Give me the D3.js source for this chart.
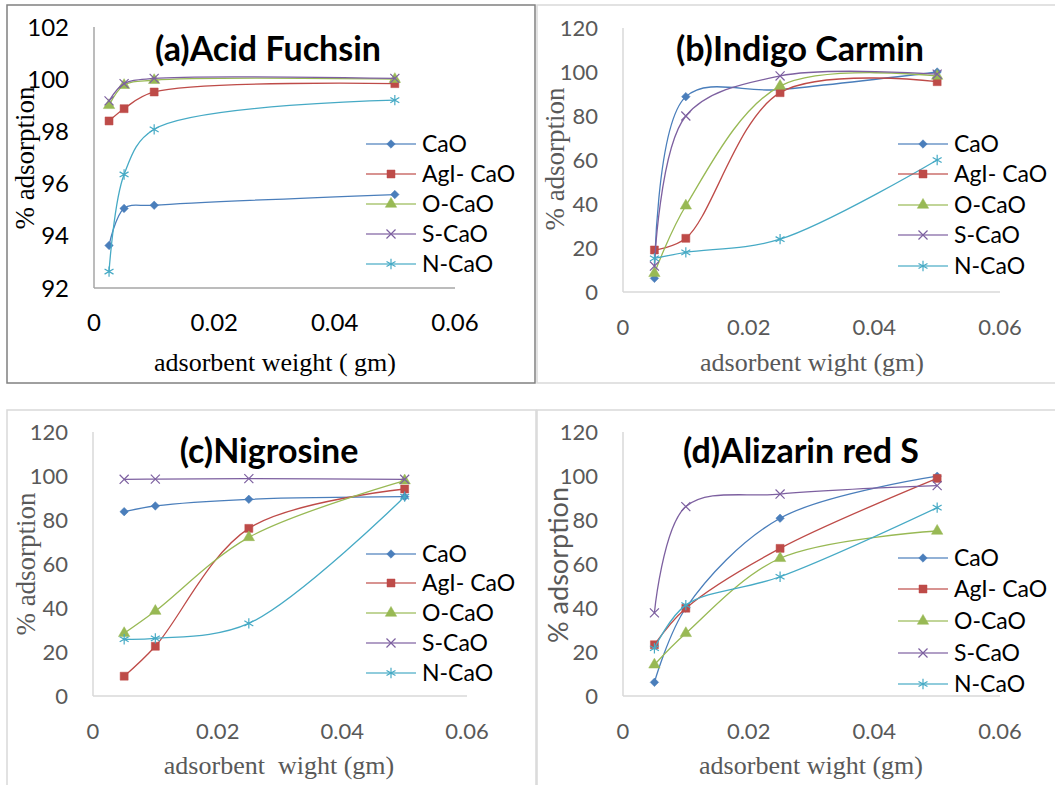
<!DOCTYPE html>
<html>
<head>
<meta charset="utf-8">
<script src="https://cdn.jsdelivr.net/npm/d3@7"></script>
<style>
  body { margin: 0; background: #fff; }
  svg { display: block; }
  text { white-space: pre; }
</style>
</head>
<body>
<svg id="chart" width="1055" height="785"></svg>
<script>
// series names + colours (excel 2007 palette)
var seriesNames = ["CaO", "AgI- CaO", "O-CaO", "S-CaO", "N-CaO"];
var seriesColors = ["#4a7ebb", "#be4b48", "#98b954", "#7d60a0", "#46aac5"];

// (a) Acid Fuchsin
var xA = [0.0025, 0.005, 0.01, 0.05];
var aCaO = [93.63, 95.05, 95.17, 95.58];
var aAgI = [98.4, 98.87, 99.51, 99.83];
var aO   = [99.0, 99.77, 99.96, 100.0];
var aS   = [99.17, 99.83, 100.03, 100.03];
var aN   = [92.63, 96.35, 98.08, 99.2];

// (b) Indigo Carmin
var xB = [0.005, 0.01, 0.025, 0.05];
var bCaO = [6.2, 88.8, 92, 100];
var bAgI = [19.1, 24.4, 90.6, 95.6];
var bO   = [8.5, 39.2, 93.6, 98.2];
var bS   = [11.8, 80, 98.2, 99];
var bN   = [15.3, 18, 24, 60];

// (c) Nigrosine
var xC = [0.005, 0.01, 0.025, 0.05];
var cCaO = [83.8, 86.4, 89.4, 90.6];
var cAgI = [9.0, 22.6, 76.2, 94.1];
var cO   = [28.5, 38.6, 72.1, 97.9];
var cS   = [98.5, 98.6, 98.8, 98.5];
var cN   = [25.8, 26.2, 33, 90.6];

// (d) Alizarin red S
var xD = [0.005, 0.01, 0.025, 0.05];
var dCaO = [6.2, 40, 80.8, 99.9];
var dAgI = [23.3, 39.9, 67.1, 98.9];
var dO   = [14.2, 28.5, 62.6, 75.0];
var dS   = [37.8, 86.1, 91.8, 95.6];
var dN   = [21.7, 41.3, 54.2, 85.6];

var xTicks = [0, 0.02, 0.04, 0.06];
var yTicksA = [92, 94, 96, 98, 100, 102];
var yTicks120 = [0, 20, 40, 60, 80, 100, 120];

var panels = [
  {title: "(a)Acid Fuchsin", xs: xA, ys: [aCaO, aAgI, aO, aS, aN], yDom: [92, 102], yTicks: yTicksA,
   xLabel: "adsorbent weight ( gm)", box: [7, 5, 535, 383], boxColor: "#808080",
   px: [94, 455], py: [288, 27], tickColor: "#000", labColor: "#000", axisColor: "#a6a6a6",
   tickSize: 24, titleX: 268, titleY: 61, xlabX: 275, xlabY: 371, ylabX: 34, ylabY: 158,
   ylabSans: false, legX: 366, legY: [144, 174, 204, 234, 264]},
  {title: "(b)Indigo Carmin", xs: xB, ys: [bCaO, bAgI, bO, bS, bN], yDom: [0, 120], yTicks: yTicks120,
   xLabel: "adsorbent wight (gm)", box: [537, 5, 1070, 383], boxColor: "#d9d9d9",
   px: [623, 1000], py: [292, 28], tickColor: "#595959", labColor: "#595959", axisColor: "#d9d9d9",
   tickSize: 22, titleX: 800, titleY: 61, xlabX: 812, xlabY: 371, ylabX: 564, ylabY: 159,
   ylabSans: false, legX: 898, legY: [144, 174, 205, 235, 266]},
  {title: "(c)Nigrosine", xs: xC, ys: [cCaO, cAgI, cO, cS, cN], yDom: [0, 120], yTicks: yTicks120,
   xLabel: "adsorbent  wight (gm)", box: [7, 410, 536, 800], boxColor: "#d9d9d9",
   px: [93, 467], py: [696, 432], tickColor: "#595959", labColor: "#595959", axisColor: "#d9d9d9",
   tickSize: 22, titleX: 269, titleY: 463, xlabX: 279, xlabY: 774, ylabX: 35, ylabY: 564,
   ylabSans: false, legX: 366, legY: [554, 583, 613, 643, 673]},
  {title: "(d)Alizarin red S", xs: xD, ys: [dCaO, dAgI, dO, dS, dN], yDom: [0, 120], yTicks: yTicks120,
   xLabel: "adsorbent wight (gm)", box: [537, 410, 1070, 800], boxColor: "#d9d9d9",
   px: [623, 1000], py: [696, 432], tickColor: "#595959", labColor: "#595959", axisColor: "#d9d9d9",
   tickSize: 22, titleX: 801, titleY: 463, xlabX: 811, xlabY: 774, ylabX: 568, ylabY: 565,
   ylabSans: true, legX: 898, legY: [558, 589, 621, 653, 684]}
];

var symbols = [d3.symbolSquare, d3.symbolSquare, d3.symbolTriangle, d3.symbolX, d3.symbolAsterisk];
var symSizes = [36, 64, 56, 55, 75];
var symFilled = [true, true, true, false, false];

var svg = d3.select("#chart");
var sans = "Lato, 'Open Sans', sans-serif";
var serif = "'Liberation Serif', 'DejaVu Serif', serif";

function drawMarker(g, i, x, y){
    var m = g.append("path")
        .attr("d", d3.symbol().type(symbols[i]).size(symSizes[i])())
        .attr("transform", "translate(" + x + "," + y + ")" + (i == 0 ? " rotate(45)" : ""))
    if(symFilled[i])
        m.attr("fill", seriesColors[i]).attr("stroke", seriesColors[i]).attr("stroke-width", 0.5)
    else
        m.attr("fill", "none").attr("stroke", seriesColors[i]).attr("stroke-width", 1.2)
}

panels.forEach(function(p){
    var g = svg.append("g")

    // frame
    g.append("rect")
        .attr("x", p.box[0]).attr("y", p.box[1])
        .attr("width", p.box[2] - p.box[0]).attr("height", p.box[3] - p.box[1])
        .attr("fill", "none").attr("stroke", p.boxColor).attr("stroke-width", 1.5)

    var x = d3.scaleLinear().domain([0, 0.06]).range(p.px),
        y = d3.scaleLinear().domain(p.yDom).range(p.py);

    // axes lines
    g.append("line").attr("x1", p.px[0]).attr("x2", p.px[0]).attr("y1", p.py[1]).attr("y2", p.py[0])
        .attr("stroke", p.axisColor).attr("stroke-width", 1.5)
    g.append("line").attr("x1", p.px[0]).attr("x2", p.px[1]).attr("y1", p.py[0]).attr("y2", p.py[0])
        .attr("stroke", p.axisColor).attr("stroke-width", 1.5)

    // tick labels
    g.selectAll(".ytl").data(p.yTicks).enter().append("text")
        .attr("x", p.px[0] - 25).attr("y", function(d){ return y(d) })
        .attr("dy", "0.36em").attr("text-anchor", "end")
        .style("font-family", sans).style("font-size", p.tickSize + "px")
        .attr("fill", p.tickColor)
        .text(function(d){ return d })
    g.selectAll(".xtl").data(xTicks).enter().append("text")
        .attr("x", function(d){ return x(d) }).attr("y", p.py[0] + 43)
        .attr("text-anchor", "middle")
        .style("font-family", sans).style("font-size", p.tickSize + "px")
        .attr("fill", p.tickColor)
        .text(function(d){ return d })

    // axis titles
    g.append("text").attr("x", p.xlabX).attr("y", p.xlabY).attr("text-anchor", "middle")
        .style("font-family", serif).style("font-size", "26px")
        .attr("fill", p.labColor).text(p.xLabel)
    g.append("text")
        .attr("transform", "translate(" + p.ylabX + "," + p.ylabY + ") rotate(-90)")
        .attr("text-anchor", "middle")
        .style("font-family", p.ylabSans ? sans : serif)
        .style("font-size", "27px")
        .attr("fill", p.labColor).text("% adsorption")

    // series, smoothed
    var line = d3.line()
        .x(function(d){ return x(d[0]) })
        .y(function(d){ return y(d[1]) })
        .curve(d3.curveCatmullRom.alpha(0.5))
    p.ys.forEach(function(vals, i){
        var pts = p.xs.map(function(xv, k){ return [xv, vals[k]] })
        g.append("path").datum(pts).attr("d", line)
            .attr("fill", "none").attr("stroke", seriesColors[i]).attr("stroke-width", 1.3)
        pts.forEach(function(pt){ drawMarker(g, i, x(pt[0]), y(pt[1])) })
    })

    // title
    g.append("text").attr("x", p.titleX).attr("y", p.titleY).attr("text-anchor", "middle")
        .style("font-family", sans).style("font-size", "34px").style("font-weight", "bold")
        .attr("fill", "#000").text(p.title)

    // legend
    seriesNames.forEach(function(name, i){
        var ly = p.legY[i]
        g.append("line").attr("x1", p.legX).attr("x2", p.legX + 50).attr("y1", ly).attr("y2", ly)
            .attr("stroke", seriesColors[i]).attr("stroke-width", 1.5).attr("stroke-opacity", 0.8)
        drawMarker(g, i, p.legX + 25, ly)
        g.append("text").attr("x", p.legX + 56).attr("y", ly).attr("dy", "0.36em")
            .style("font-family", sans).style("font-size", "23px")
            .attr("fill", "#000").text(name)
    })
})
</script>
</body>
</html>
